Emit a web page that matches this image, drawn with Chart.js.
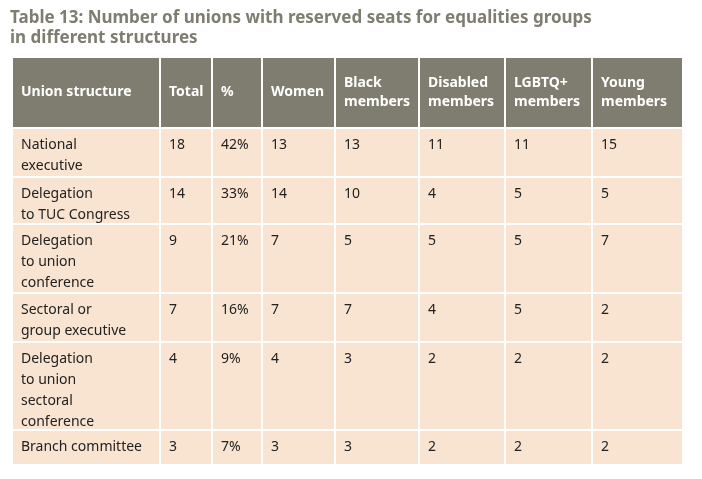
<!DOCTYPE html>
<html><head><meta charset="utf-8">
<script src="https://cdn.jsdelivr.net/npm/chart.js@4"></script>
<style>html,body{margin:0;padding:0;background:#fff}#wrap{width:702px;height:479px}</style>
</head><body><div id="wrap"><canvas id="c" width="702" height="479"></canvas></div>
<script>
const titleLines = ["Table 13: Number of unions with reserved seats for equalities groups", "in different structures"];
const headers = [["Union structure"],["Total"],["%"],["Women"],["Black","members"],["Disabled","members"],["LGBTQ+","members"],["Young","members"]];
const categories = [["National","executive"],["Delegation","to TUC Congress"],["Delegation","to union","conference"],["Sectoral or","group executive"],["Delegation","to union","sectoral","conference"],["Branch committee"]];
const total = [18,14,9,7,4,3];
const pct = ["42%","33%","21%","16%","9%","7%"];
const women = [13,14,7,7,4,3];
const black = [13,10,5,7,3,3];
const disabled = [11,4,5,4,2,2];
const lgbtq = [11,5,5,5,2,2];
const young = [15,5,7,2,2,2];

const colEdges = [12,160,212,262,335,419,505,592,683];
const rowEdges = [57,128,177,224,293,342,430,465];
const FONT = '"Noto Sans", sans-serif';

const tablePlugin = {
  id:'table',
  afterDraw(chart){
    const ctx = chart.ctx;
    ctx.save();
    ctx.fillStyle='#7e7d6f';
    ctx.font='bold 17px '+FONT;
    ctx.textBaseline='middle';
    ctx.fillText(titleLines[0],10,18);
    ctx.fillText(titleLines[1],10,38);
    const cols=[categories,total,pct,women,black,disabled,lgbtq,young];
    for(let r=0;r<rowEdges.length-1;r++){
      const y0=rowEdges[r], y1=rowEdges[r+1];
      for(let c=0;c<colEdges.length-1;c++){
        const x0=colEdges[c], x1=colEdges[c+1];
        ctx.fillStyle = r===0 ? '#7e7d6f' : '#f9e4d2';
        ctx.fillRect(x0,y0,x1-x0,y1-y0);
        ctx.strokeStyle='#ffffff'; ctx.lineWidth=2;
        ctx.strokeRect(x0,y0,x1-x0,y1-y0);
        let lines;
        if(r===0){
          lines=headers[c];
          ctx.fillStyle='#ffffff'; ctx.font='bold 14px '+FONT;
          const mid=(y0+y1)/2, start=mid-(lines.length-1)*19/2;
          lines.forEach((t,i)=>ctx.fillText(t,x0+9,start+i*19));
        } else {
          const v=cols[c][r-1];
          lines = Array.isArray(v)?v:[String(v)];
          ctx.fillStyle='#222222'; ctx.font='14px '+FONT;
          lines.forEach((t,i)=>ctx.fillText(t,x0+9,y0+17+i*21));
        }
      }
    }
    ctx.restore();
  }
};

new Chart(document.getElementById('c'),{
  type:'scatter',
  data:{datasets:[{data:[]}]},
  options:{responsive:false,animation:false,
    plugins:{legend:{display:false},tooltip:{enabled:false}},
    scales:{x:{display:false},y:{display:false}}},
  plugins:[tablePlugin]
});
</script></body></html>
